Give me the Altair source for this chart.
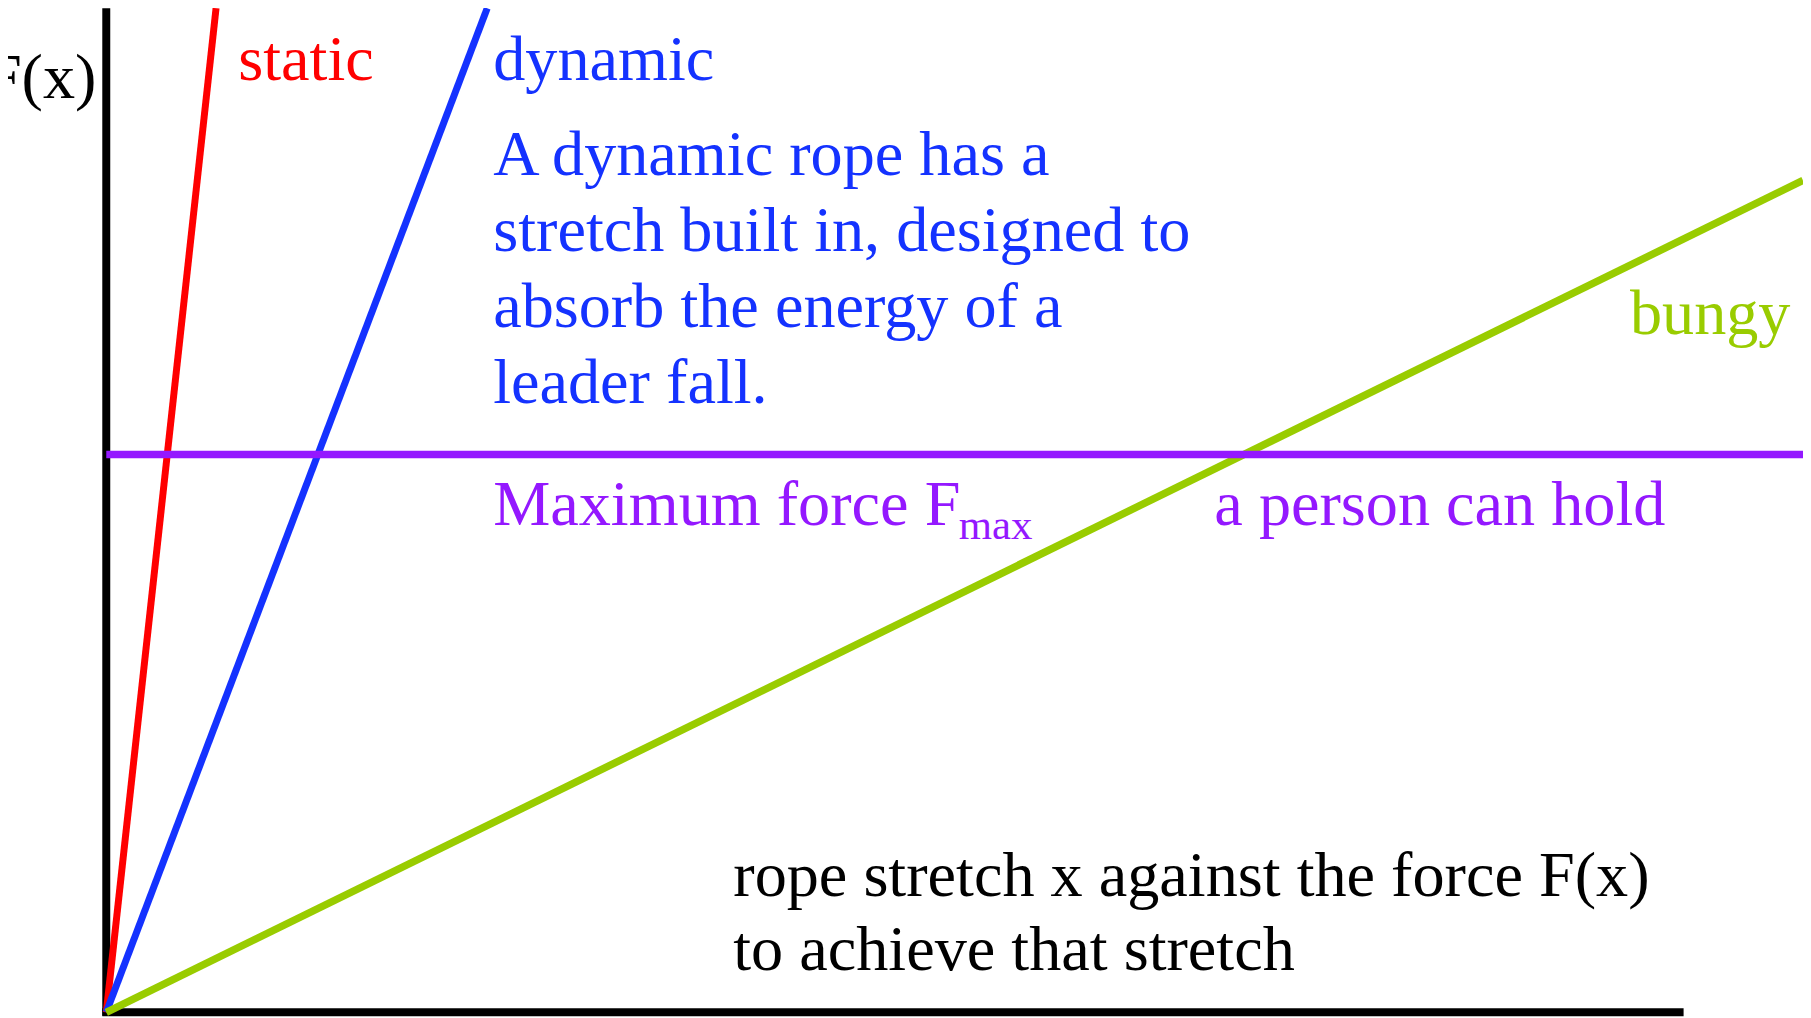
import altair as alt
import pandas as pd

# ---- data (stretch x in arbitrary units, force F(x) in arbitrary units) ----
rope_names = ["static", "dynamic", "bungy"]
rope_end_x = [6.96, 24.15, 107.57]
rope_end_F = [100.0, 100.0, 82.85]

fmax_F = 55.55
fmax_x_end = 107.57

axis_x_range = [-0.25, 100.0]
axis_F_range = [-0.35, 100.0]

# ---- annotations (data coordinates) ----
label_text = [
    "F(x)", "static", "dynamic",
    "A dynamic rope has a", "stretch built in, designed to",
    "absorb the energy of a", "leader fall.",
    "bungy", "Maximum force F", "max", "a person can hold",
    "rope stretch x against the force F(x)", "to achieve that stretch",
]
label_x = [-0.62, 8.37, 24.53, 24.53, 24.53, 24.53, 24.53,
           96.60, 24.53, 54.05, 70.25, 39.75, 39.75]
label_F = [91.08, 92.86, 92.86, 83.44, 75.85, 68.30, 60.73,
           67.58, 48.49, 47.15, 48.49, 11.55, 4.21]
label_group = ["black_r", "red", "blue", "blue", "blue", "blue", "blue",
               "green", "purple", "purple_sub", "purple", "black", "black"]

# ---- styles ----
RED = "#ff0000"
BLUE = "#1432ff"
GREEN = "#99cc00"
PURPLE = "#9418ff"
BLACK = "#000000"
FONT = "Liberation Serif"

xscale = alt.Scale(domain=[-6.23, 107.57], nice=False, zero=False)
yscale = alt.Scale(domain=[-0.347, 99.80], nice=False, zero=False)


def line_layer(xs, Fs, color, width):
    df = pd.DataFrame({"x": xs, "F": Fs, "i": list(range(len(xs)))})
    return alt.Chart(df).mark_line(color=color, strokeWidth=width, strokeCap="butt").encode(
        x=alt.X("x:Q", scale=xscale, axis=None),
        y=alt.Y("F:Q", scale=yscale, axis=None),
        order="i:Q",
    )


layers = []
# axes
layers.append(line_layer(axis_x_range, [0, 0], BLACK, 8))
layers.append(line_layer([0, 0], axis_F_range, BLACK, 8))
# ropes
rope_colors = {"static": RED, "dynamic": BLUE, "bungy": GREEN}
rope_widths = {"static": 7, "dynamic": 7, "bungy": 7.5}
for n, ex, eF in zip(rope_names, rope_end_x, rope_end_F):
    layers.append(line_layer([0, ex], [0, eF], rope_colors[n], rope_widths[n]))
# Fmax
layers.append(line_layer([0, fmax_x_end], [fmax_F, fmax_F], PURPLE, 7.5))

labels = pd.DataFrame({"text": label_text, "x": label_x, "F": label_F, "g": label_group})

group_style = {
    "black_r": dict(color=BLACK, align="right", fontSize=64.5),
    "red": dict(color=RED, align="left", fontSize=64.5),
    "blue": dict(color=BLUE, align="left", fontSize=64.5),
    "green": dict(color=GREEN, align="left", fontSize=64.5),
    "purple": dict(color=PURPLE, align="left", fontSize=64.5),
    "purple_sub": dict(color=PURPLE, align="left", fontSize=43),
    "black": dict(color=BLACK, align="left", fontSize=64.5),
}
for g, st in group_style.items():
    layers.append(
        alt.Chart(labels).transform_filter(alt.datum.g == g).mark_text(
            baseline="alphabetic", font=FONT, **st
        ).encode(
            x=alt.X("x:Q", scale=xscale, axis=None),
            y=alt.Y("F:Q", scale=yscale, axis=None),
            text="text:N",
        )
    )

chart = alt.layer(*layers).properties(
    width=1803, height=1010, padding=0, autosize="none", background="white"
).configure_view(strokeWidth=0)

chart.save("out.html", embed_options={"renderer": "svg", "actions": False})
